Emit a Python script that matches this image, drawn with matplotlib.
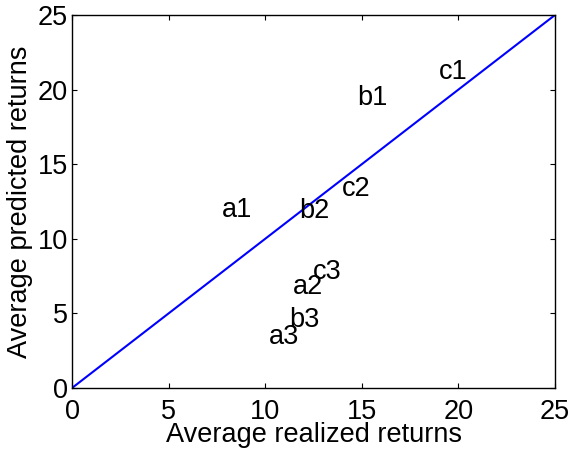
import matplotlib
matplotlib.use("Agg")
import matplotlib.pyplot as plt

# label positions (average realized, average predicted)
names = ['a1', 'b1', 'c1', 'a2', 'b2', 'c2', 'a3', 'b3', 'c3']
realized = [7.76, 14.75, 19.0, 11.44, 11.75, 13.97, 10.2, 11.23, 12.47]
predicted = [11.93, 19.44, 21.18, 6.77, 11.86, 13.34, 3.42, 4.56, 7.77]
diag = [0, 25]

plt.rcParams['font.family'] = ['Liberation Sans', 'DejaVu Sans']
fs = 19.5

fig = plt.figure(figsize=(5.71, 4.51), dpi=100)
ax = fig.add_axes([72 / 571, 1 - 388 / 451, (555 - 72) / 571, (388 - 15) / 451])

ax.plot(diag, diag, color='#0000ff', linewidth=1.5)
for n, x, y in zip(names, realized, predicted):
    ax.text(x, y, n, fontsize=fs, ha='left', va='center')

ax.set_xlim(0, 25)
ax.set_ylim(0, 25)
ax.set_xticks(range(0, 26, 5))
ax.set_yticks(range(0, 26, 5))
ax.tick_params(direction='in', top=True, right=True, labelsize=fs, length=3.5)
ax.tick_params(axis='x', pad=8)
ax.tick_params(axis='y', pad=3)
for s in ax.spines.values():
    s.set_linewidth(1.0)
ax.set_xlabel('Average realized returns', fontsize=fs, labelpad=-2)
ax.set_ylabel('Average predicted returns', fontsize=fs, labelpad=3)

fig.savefig('out.png', dpi=100)
